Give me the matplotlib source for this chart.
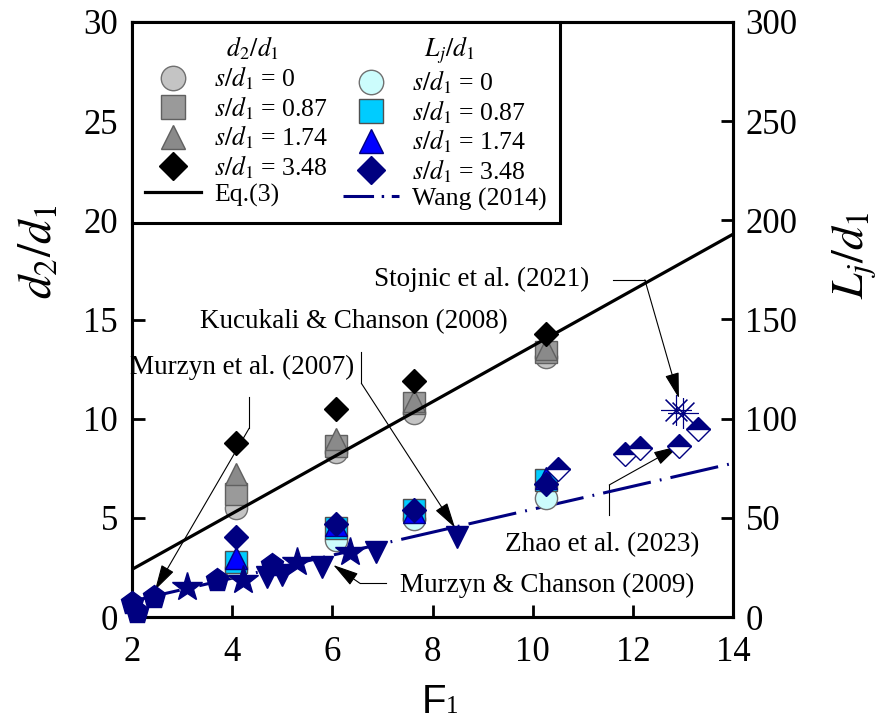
import numpy as np
import matplotlib
matplotlib.use('Agg')
import matplotlib.pyplot as plt
from matplotlib.lines import Line2D

plt.rcParams['font.family'] = ['Liberation Serif', 'DejaVu Serif']
plt.rcParams['font.serif'] = ['Liberation Serif', 'DejaVu Serif']
plt.rcParams['mathtext.fontset'] = 'stix'

# ---- data ----
f_exp = [4.07, 6.07, 7.63, 10.27]
# d2/d1 for s/d1 = 0, 0.87, 1.74, 3.48
d2_s0 = [5.5, 8.3, 10.3, 13.1]
d2_s087 = [6.2, 8.6, 10.8, 13.35]
d2_s174 = [7.2, 9.0, 10.9, 13.5]
d2_s348 = [8.76, 10.47, 11.92, 14.25]
# Lj/d1 for s/d1 = 0, 0.87, 1.74, 3.48
lj_s0 = [24.5, 39.0, 49.3, 60.0]
lj_s087 = [27.5, 45.0, 53.8, 69.0]
lj_s174 = [30.0, 46.5, 53.0, 70.0]
lj_s348 = [40.5, 47.0, 54.0, 67.0]

# other studies (Lj/d1)
murzyn07_f = [2.0, 2.1, 2.43, 3.69, 4.79]
murzyn07_lj = [6.9, 2.5, 10.2, 18.7, 26.2]
star_f = [3.09, 4.22, 5.29, 6.35]
star_lj = [15.3, 18.7, 27.9, 32.9]
murzyn09_f = [4.69, 4.99, 5.79, 6.88]
murzyn09_lj = [20.3, 21.2, 25.4, 32.9]
kucukali_f = [8.48]
kucukali_lj = [40.5]
zhao_f = [10.5, 11.84, 12.15, 12.92, 13.3]
zhao_lj = [74.6, 82.0, 85.0, 86.0, 95.0]
stojnic_f = [12.87, 13.0]
stojnic_lj = [104.4, 102.7]

eq3_f = [2, 14]
eq3_d2 = [2.4, 19.3]
wang_f = [2, 14]
wang_lj = [8.0, 77.5]

navy = '#000080'
serif = 'Liberation Serif'

fig = plt.figure(figsize=(8.82, 7.2), dpi=100)
ax = fig.add_axes([132/882, 1-617/720, 601/882, 595/720])
ax2 = ax.twinx()

# d2/d1 (left axis)
h1, = ax.plot(f_exp, d2_s0, 'o', ms=16, mfc='#c4c4c4', mec='#707070', mew=1, ls='none', zorder=2)
h2, = ax.plot(f_exp, d2_s087, 's', ms=16, mfc='#9a9a9a', mec='#606060', mew=1, ls='none', zorder=2)
h3, = ax.plot(f_exp, d2_s174, '^', ms=16, mfc='#8a8a8a', mec='#606060', mew=1, ls='none', zorder=2)
l_eq, = ax.plot(eq3_f, eq3_d2, '-', color='black', lw=2.3, zorder=2.5)
h4, = ax.plot(f_exp, d2_s348, 'D', ms=12.5, mfc='black', mec='black', ls='none', zorder=3)

# Lj/d1 (right axis)
wang_ls = (0, (16, 3, 0.6, 3))
ax2.plot(wang_f, wang_lj, color=navy, lw=2.2, ls=wang_ls, zorder=1)
l_wang = Line2D([], [], color=navy, lw=2.2, ls=(0, (10, 2.5, 0.8, 2.5)))
g1, = ax2.plot(f_exp, lj_s0, 'o', ms=16, mfc='#ccfcfc', mec='#707070', mew=1, ls='none', zorder=2)
g2, = ax2.plot(f_exp, lj_s087, 's', ms=16, mfc='#00ccff', mec='#505050', mew=1, ls='none', zorder=2)
g3, = ax2.plot(f_exp, lj_s174, '^', ms=16, mfc='#0000ff', mec=navy, mew=1, ls='none', zorder=2)
g4, = ax2.plot(f_exp, lj_s348, 'D', ms=12.5, mfc=navy, mec=navy, ls='none', zorder=3)

ax2.plot(murzyn07_f, murzyn07_lj, 'p', ms=17, color=navy, mec=navy, ls='none', clip_on=False, zorder=3)
ax2.plot(star_f, star_lj, '*', ms=22, color=navy, mec=navy, ls='none', zorder=3)
ax2.plot(murzyn09_f, murzyn09_lj, 'v', ms=16, color=navy, mec=navy, ls='none', zorder=3)
ax2.plot(kucukali_f, kucukali_lj, 'v', ms=16, color=navy, mec=navy, ls='none', zorder=3)
ax2.plot(zhao_f, zhao_lj, 'D', ms=12, fillstyle='top', mfc=navy, mfcalt='white', mec=navy, mew=1, ls='none', zorder=3)
ax2.plot(stojnic_f, stojnic_lj, marker=(8, 2, 0), ms=22, color=navy, mew=0.8, ls='none', zorder=3)

# annotations: (text, text pos, anchor, bend segment, arrow tip) in left-axis units
notes = [
    ('Murzyn et al. (2007)', (1.97, 12.56), 'left', [(4.34, 11.11), (4.34, 9.52)], (2.46, 1.36)),
    ('Kucukali & Chanson (2008)', (3.35, 14.88), 'left', [(6.58, 13.38), (6.58, 11.78)], (8.45, 4.5)),
    ('Stojnic et al. (2021)', (11.12, 17.0), 'right', [(11.61, 17.0), (12.24, 17.0)], (12.92, 11.03)),
    ('Zhao et al. (2023)', (9.45, 3.63), 'left', [(11.53, 5.14), (11.53, 6.66)], (12.92, 8.62)),
    ('Murzyn & Chanson (2009)', (7.35, 1.61), 'left', [(7.08, 1.70), (6.55, 1.70)], (6.02, 2.62)),
]
for txt, pos, ha, bend, tip in notes:
    ax.text(pos[0], pos[1], txt, ha=ha, va='center', fontsize=19.5, family=serif, zorder=5)
    ax.plot([bend[0][0], bend[1][0]], [bend[0][1], bend[1][1]], color='black', lw=0.8, zorder=4)
    ax.annotate('', xy=tip, xytext=bend[1], zorder=4,
                arrowprops=dict(arrowstyle='-|>,head_length=0.8,head_width=0.22',
                                mutation_scale=20, color='black', lw=0.8,
                                shrinkA=0, shrinkB=0))

ax.set_xlim(2, 14)
ax.set_ylim(0, 30)
ax2.set_ylim(0, 300)
ax.set_xticks(np.arange(2, 15, 2))
ax.set_yticks(np.arange(0, 31, 5))
ax2.set_yticks(np.arange(0, 301, 50))
ax.tick_params(axis='both', direction='in', length=9, width=2, labelsize=25)
ax.tick_params(axis='y', pad=10)
ax.tick_params(axis='x', pad=14)
ax2.tick_params(axis='y', direction='in', length=9, width=2, labelsize=25, pad=9)
for lab in ax.get_xticklabels() + ax.get_yticklabels() + ax2.get_yticklabels():
    lab.set_fontfamily(serif)
for a in (ax, ax2):
    for s in a.spines.values():
        s.set_linewidth(2.2)

fig.text(40/882, 1-252/720, r'$d_2/d_1$', rotation=90, ha='center', va='center', fontsize=34)
fig.text(855/882, 1-255/720, r'$L_j/d_1$', rotation=90, ha='center', va='center', fontsize=33)
fig.text(446/882, 1-713/720, 'F', family='Liberation Sans', fontsize=29, ha='right', va='baseline')
fig.text(446/882, 1-713/720, '1', family=serif, fontsize=18, ha='left', va='baseline')

# legend
blank = Line2D([], [], ls='none', marker='none')
handles = [blank, h1, h2, h3, h4, l_eq, blank, g1, g2, g3, g4, l_wang]
labels = ['  $d_2/d_1$', '$s/d_1$ = 0', '$s/d_1$ = 0.87', '$s/d_1$ = 1.74', '$s/d_1$ = 3.48', 'Eq.(3)',
          '  $L_j/d_1$', '$s/d_1$ = 0', '$s/d_1$ = 0.87', '$s/d_1$ = 1.74', '$s/d_1$ = 3.48', 'Wang (2014)']
leg = ax2.legend(handles, labels, ncol=2, loc='upper left', bbox_to_anchor=(0, 1),
                 borderaxespad=0, prop={'family': serif, 'size': 18.5}, frameon=True,
                 fancybox=False, framealpha=1, edgecolor='black', handlelength=2.2,
                 handletextpad=0.5, columnspacing=0.55, labelspacing=0.08, borderpad=0.5,
                 markerscale=1.1)
leg.get_frame().set_linewidth(2.2)
leg.set_zorder(10)

fig.savefig('out.png', dpi=100)
